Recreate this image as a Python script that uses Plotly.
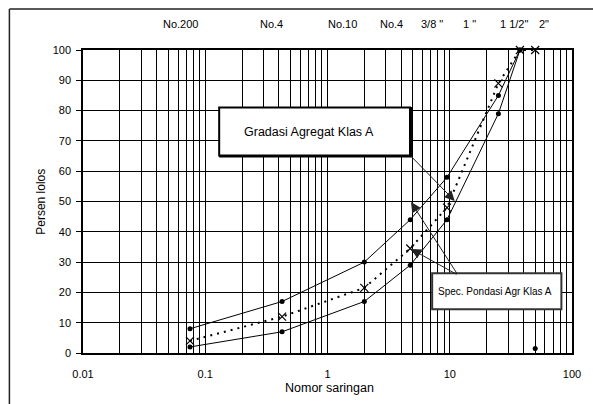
import plotly.graph_objects as go

# ---- data ----
sieve_mm = [0.075, 0.425, 2.0, 4.75, 9.5, 25.0, 37.5]
spec_upper = [8, 17, 30, 44, 58, 85, 100]
spec_lower = [2, 7, 17, 29, 44, 79, 100]
grad_mm = [0.075, 0.425, 2.0, 4.75, 9.5, 25.0, 37.5, 50.0]
grad_pass = [4, 12, 21.5, 34.5, 48, 89, 100, 100]
stray_mm = [50.0]
stray_pass = [1.5]

top_labels = ["No.200", "No.4", "No.10", "No.4", "3/8 \"", "1 \"", "1 1/2\"", "2\""]
top_label_pos = [0.199, 0.386, 0.530, 0.631, 0.713, 0.791, 0.882, 0.943]

x_ticks = [0.01, 0.1, 1, 10, 100]
x_ticktext = ["0.01", "0.1", "1", "10", "100"]
minor_vals = [m * d for d in (0.01, 0.1, 1, 10) for m in range(2, 10)]

FONT = "Arial, Liberation Sans, sans-serif"

fig = go.Figure()

fig.add_trace(go.Scatter(x=sieve_mm, y=spec_upper, mode="lines+markers",
                         line=dict(color="black", width=1),
                         marker=dict(symbol="circle", size=5, color="black"),
                         cliponaxis=False, showlegend=False))
fig.add_trace(go.Scatter(x=sieve_mm, y=spec_lower, mode="lines+markers",
                         line=dict(color="black", width=1),
                         marker=dict(symbol="circle", size=5, color="black"),
                         cliponaxis=False, showlegend=False))
fig.add_trace(go.Scatter(x=grad_mm, y=grad_pass, mode="lines+markers",
                         line=dict(color="black", width=2, dash="2px,5px"),
                         marker=dict(symbol="x-thin", size=8,
                                     line=dict(color="black", width=1.2)),
                         cliponaxis=False, showlegend=False))
fig.add_trace(go.Scatter(x=stray_mm, y=stray_pass, mode="markers",
                         marker=dict(symbol="circle", size=5, color="black"),
                         cliponaxis=False, showlegend=False))

shapes = [
    # outer frame (left and top edges visible)
    dict(type="line", xref="paper", yref="paper", x0=-0.1505, x1=-0.1505,
         y0=1.1353, y1=-0.25, line=dict(color="#222", width=1.5)),
    dict(type="line", xref="paper", yref="paper", x0=-0.1505, x1=1.1,
         y0=1.1353, y1=1.1353, line=dict(color="#222", width=1.5)),
    # Gradasi box shadow + box
    dict(type="rect", xref="paper", yref="paper", x0=0.2805, x1=0.6707,
         y0=0.6485, y1=0.8082, line=dict(color="black", width=2),
         fillcolor="black", layer="above"),
    dict(type="rect", xref="paper", yref="paper", x0=0.2785, x1=0.6687,
         y0=0.6518, y1=0.8102, line=dict(color="black", width=2),
         fillcolor="white", layer="above"),
    # Spec box
    dict(type="rect", xref="paper", yref="paper", x0=0.714, x1=0.9783,
         y0=0.1442, y1=0.263, line=dict(color="#333", width=2),
         fillcolor="white", layer="above"),
]

annotations = []
for lab, px in zip(top_labels, top_label_pos):
    annotations.append(dict(text=lab, xref="paper", yref="paper", x=px, y=1.0858,
                            showarrow=False, font=dict(family=FONT, size=11, color="black"),
                            xanchor="center", yanchor="middle"))

annotations += [
    dict(text="Gradasi Agregat Klas A", xref="paper", yref="paper", x=0.4614, y=0.7304,
         showarrow=False, font=dict(family=FONT, size=12.5, color="black"),
         xanchor="center", yanchor="middle"),
    dict(text="Spec. Pondasi Agr Klas A", xref="paper", yref="paper", x=0.8435, y=0.2023,
         showarrow=False, font=dict(family=FONT, size=10, color="black"),
         xanchor="center", yanchor="middle"),
    dict(text="Persen lolos", xref="paper", yref="paper", x=-0.0874, y=0.5,
         textangle=-90, showarrow=False, font=dict(family=FONT, size=12, color="black"),
         xanchor="center", yanchor="middle"),
    dict(text="Nomor saringan", xref="paper", yref="paper", x=0.504, y=-0.1155,
         showarrow=False, font=dict(family=FONT, size=12.5, color="black"),
         xanchor="center", yanchor="middle"),
    # arrows
    dict(text="", xref="x", yref="y", x=1.0407, y=50.2, ax=-45, ay=-46,
         showarrow=True, arrowhead=2, arrowsize=2, arrowwidth=1, arrowcolor="#222", standoff=0),
    dict(text="", xref="x", yref="y", x=0.683, y=49.8, ax=47, ay=73,
         showarrow=True, arrowhead=2, arrowsize=2, arrowwidth=1, arrowcolor="#222", standoff=0),
    dict(text="", xref="x", yref="y", x=0.683, y=34.3, ax=47, ay=26,
         showarrow=True, arrowhead=2, arrowsize=2, arrowwidth=1, arrowcolor="#222", standoff=0),
]

fig.update_layout(
    width=593, height=404, autosize=False,
    margin=dict(l=83, r=18, t=50, b=51),
    paper_bgcolor="white", plot_bgcolor="white",
    font=dict(family=FONT, size=11, color="black"),
    shapes=shapes, annotations=annotations, showlegend=False,
)

fig.update_xaxes(type="log", range=[-2, 2], tickvals=x_ticks, ticktext=x_ticktext,
                 showgrid=True, gridcolor="black", gridwidth=1.2,
                 minor=dict(tickvals=minor_vals, showgrid=True, gridcolor="black", gridwidth=1.2),
                 showline=True, linecolor="black", linewidth=1.5, mirror=True,
                 ticks="", ticklabelstandoff=10, zeroline=False,
                 tickfont=dict(family=FONT, size=11, color="black"))
fig.update_yaxes(range=[0, 100], dtick=10, tick0=0,
                 showgrid=True, gridcolor="black", gridwidth=1.2,
                 showline=True, linecolor="black", linewidth=1.5, mirror=True,
                 ticks="outside", ticklen=5, tickcolor="black", ticklabelstandoff=3,
                 zeroline=False, tickfont=dict(family=FONT, size=11, color="black"))

fig.write_html("out.html", config={"displayModeBar": False},
               post_script="document.body.style.margin='0px';document.body.style.padding='0px';")
